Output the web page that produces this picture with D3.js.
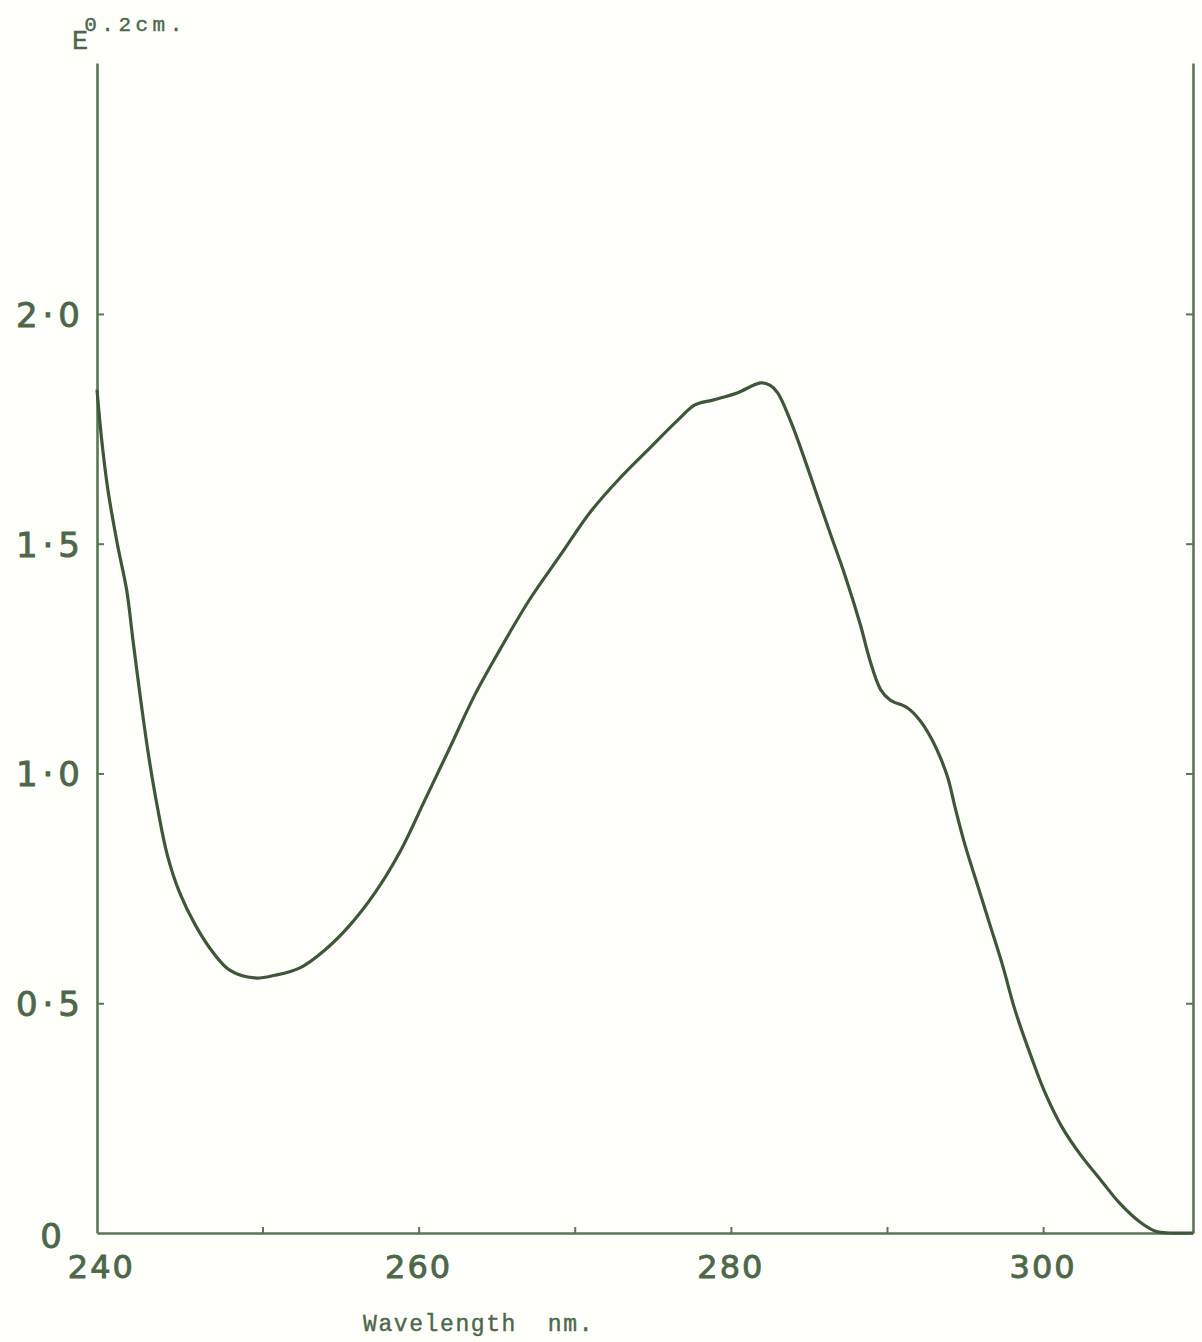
<!DOCTYPE html>
<html>
<head>
<meta charset="utf-8">
<script src="https://cdn.jsdelivr.net/npm/d3@7"></script>
<style>
  html, body { margin: 0; padding: 0; background: #fefefb; }
  svg { display: block; }
</style>
</head>
<body>
<script>
// ---- data ----
const wavelength = [239.4,239.7,240.1,240.7,241.3,241.7,242.2,242.7,243.3,243.9,244.7,245.7,246.8,247.9,249.5,250.8,252.4,254.0,255.6,257.2,258.8,260.4,262.0,263.6,265.2,267.1,269.1,271.0,272.9,274.8,276.6,277.7,278.9,280.4,281.9,282.5,283.0,283.8,284.4,285.4,286.4,287.3,288.3,288.9,289.6,290.2,291.3,292.1,292.8,293.4,293.9,294.4,295.0,295.8,296.6,297.4,298.2,299.2,300.1,301.2,302.4,303.7,304.9,306.2,307.2,308.1,309.6];
const absorbance = [1.835,1.726,1.617,1.500,1.399,1.291,1.160,1.040,0.921,0.823,0.740,0.670,0.612,0.572,0.555,0.561,0.577,0.616,0.670,0.740,0.829,0.942,1.056,1.171,1.269,1.378,1.476,1.569,1.643,1.708,1.769,1.802,1.813,1.828,1.850,1.845,1.828,1.769,1.715,1.617,1.519,1.432,1.323,1.247,1.182,1.160,1.143,1.116,1.079,1.036,0.990,0.921,0.844,0.757,0.670,0.583,0.485,0.387,0.307,0.231,0.170,0.115,0.065,0.024,0.004,0,0];
const xTickValues = [250,260,270,280,290,300];
const xLabelValues = [240,260,280,300];
const xLabelText = ["240","260","280","300"];
const yTickValues = [0.5,1.0,1.5,2.0];
const yLabelValues = [0,0.5,1.0,1.5,2.0];
const yLabelText = ["0","0·5","1·0","1·5","2·0"];
const xTitle = "Wavelength  nm.";
const yTitleMain = "E";
const yTitleSup = "0.2cm.";

(function () {
// ---- layout ----
const W = 1202, H = 1342;
const mLeft = 97, mRight = 1193, mTop = 63, mBottom = 1233;
const axisColor = "#5a7755", lineColor = "#3e5639", textColor = "#4d6848";

const svg = d3.select("body").append("svg").attr("width", W).attr("height", H);

const x = d3.scaleLinear().domain([239.4, 309.6]).range([mLeft, mRight]);
const y = d3.scaleLinear().domain([0, 2.546]).range([mBottom, mTop]);

// axes (ticks inward)
const gx = svg.append("g").attr("transform", `translate(0,${mBottom})`)
  .call(d3.axisBottom(x).tickValues(xTickValues).tickSize(-6).tickSizeOuter(0).tickFormat(""));
const gy = svg.append("g").attr("transform", `translate(${mLeft},0)`)
  .call(d3.axisLeft(y).tickValues(yTickValues).tickSize(-7).tickSizeOuter(0).tickFormat(""));
const gr = svg.append("g").attr("transform", `translate(${mRight},0)`)
  .call(d3.axisRight(y).tickValues(yTickValues).tickSize(-7).tickSizeOuter(0).tickFormat(""));
[gx, gy, gr].forEach(g => {
  g.select(".domain").attr("stroke", axisColor).attr("stroke-width", 2.6);
  g.selectAll(".tick line").attr("stroke", axisColor).attr("stroke-width", 2);
});

// x labels
svg.append("g").selectAll("text").data(xLabelValues).join("text")
  .attr("x", (d, i) => x(d) - (i === 0 ? 5 : 0))
  .attr("y", 1278)
  .attr("text-anchor", "middle")
  .attr("font-family", "DejaVu Sans, sans-serif")
  .attr("font-size", 32)
  .attr("letter-spacing", 2)
  .attr("fill", textColor)
  .attr("stroke", textColor).attr("stroke-width", 0.9)
  .text((d, i) => xLabelText[i]);

// y labels
svg.append("g").selectAll("text").data(yLabelValues).join("text")
  .attr("x", d => d === 0 ? 67 : 85)
  .attr("y", d => y(d) + (d === 0 ? 15 : 13))
  .attr("text-anchor", "end")
  .attr("font-family", "DejaVu Sans, sans-serif")
  .attr("font-size", 34)
  .attr("letter-spacing", 5)
  .attr("fill", textColor)
  .attr("stroke", textColor).attr("stroke-width", 0.9)
  .text((d, i) => yLabelText[i]);

// axis titles
svg.append("text")
  .attr("x", 363).attr("y", 1331)
  .attr("font-family", "Liberation Mono, monospace")
  .attr("font-size", 23)
  .attr("letter-spacing", 1.6)
  .attr("fill", textColor)
  .attr("stroke", textColor).attr("stroke-width", 0.4)
  .style("white-space", "pre")
  .text(xTitle);

const t = svg.append("text")
  .attr("x", 72).attr("y", 49)
  .attr("font-family", "Liberation Mono, monospace")
  .attr("fill", textColor)
  .attr("stroke", textColor).attr("stroke-width", 0.4);
t.append("tspan").attr("font-size", 27).text(yTitleMain);
t.append("tspan").attr("font-size", 21).attr("dy", -18).attr("dx", -4)
  .attr("letter-spacing", 4.5).text(yTitleSup);

// curve
const data = wavelength.map((w, i) => ({ w, a: absorbance[i] }));
const line = d3.line().x(d => x(d.w)).y(d => y(d.a)).curve(d3.curveCatmullRom.alpha(0.5));
svg.append("path").datum(data)
  .attr("d", line)
  .attr("fill", "none")
  .attr("stroke", lineColor)
  .attr("stroke-width", 3.2)
  .attr("stroke-linejoin", "round");
})();
</script>
</body>
</html>
